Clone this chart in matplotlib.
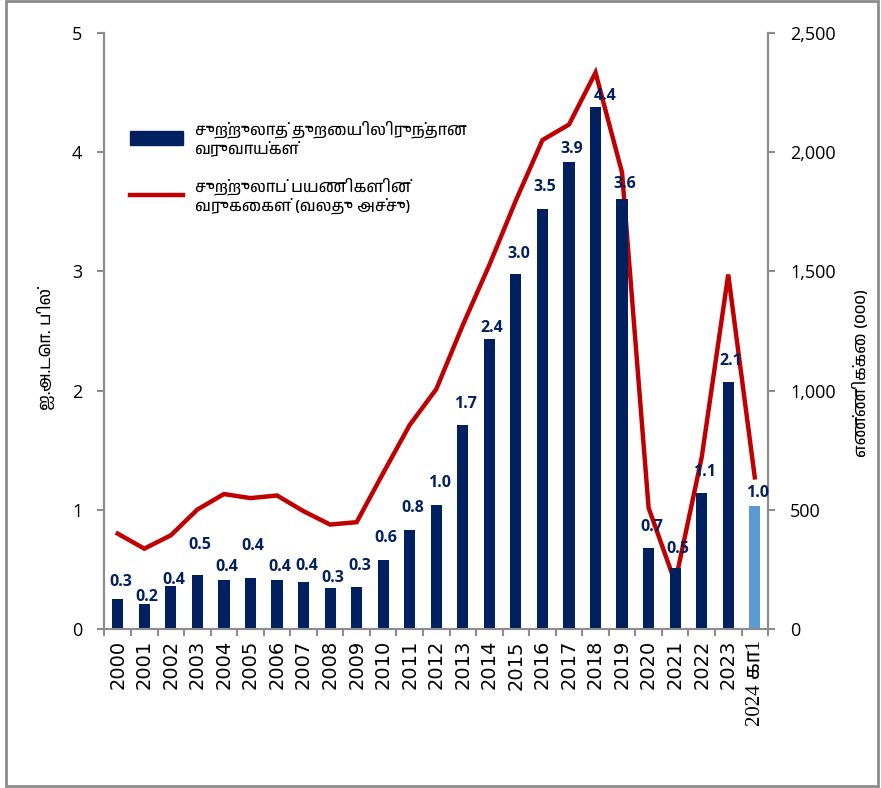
import numpy as np
import matplotlib
matplotlib.use("Agg")
import matplotlib.pyplot as plt
from matplotlib import font_manager
from matplotlib.patches import Rectangle

# ====== Data ======
years = [str(y) for y in range(2000, 2024)] + ["2024 கா1"]
earnings = [0.25, 0.21, 0.36, 0.45, 0.41, 0.43, 0.41, 0.39, 0.34, 0.35,
            0.58, 0.83, 1.04, 1.71, 2.43, 2.98, 3.52, 3.92, 4.38, 3.61,
            0.68, 0.51, 1.14, 2.07, 1.03]
earn_labels = ["0.3", "0.2", "0.4", "0.5", "0.4", "0.4", "0.4", "0.4", "0.3", "0.3",
               "0.6", "0.8", "1.0", "1.7", "2.4", "3.0", "3.5", "3.9", "4.4", "3.6",
               "0.7", "0.5", "1.1", "2.1", "1.0"]
arrivals = [400, 337, 393, 501, 566, 549, 560, 494, 438, 448,
            654, 856, 1006, 1275, 1527, 1798, 2051, 2116, 2334, 1914,
            508, 195, 720, 1487, 636]

left_ticks = [0, 1, 2, 3, 4, 5]
right_ticks = [0, 500, 1000, 1500, 2000, 2500]

legend_bar = "சுற்றுலாத் துறையிலிருந்தான\nவருவாய்கள்"
legend_line = "சுற்றுலாப் பயணிகளின்\nவருகைகள் (வலது அச்சு)"
ylabel_left = "ஐ.அ.டொ. பில்"
ylabel_right = "எண்ணிக்கை (000)"

# label gap above bar top (px), Excel labels were nudged by hand
label_gap = [17, 7, 6, 30, 13, 32, 13, 16, 10, 21,
             22, 22, 22, 21, 11, 20, 22, 13, 11, 15,
             21, 19, 21, 21, 13]

# ====== Fonts ======
tamil = [f.name for f in font_manager.fontManager.ttflist if "tamil" in f.name.lower()]
tamil_family = tamil[0] if tamil else "DejaVu Sans"
family = [tamil_family, "Open Sans", "DejaVu Sans"]
plt.rcParams["font.family"] = family

NAVY = "#002060"
LIGHT = "#5B9BD5"
RED = "#C00000"
GREY = "#8C8C8C"

fig = plt.figure(figsize=(8.81, 7.88), dpi=100)
ax = fig.add_axes([0.1186, 0.2018, 0.7532, 0.7563])
ax2 = ax.twinx()

x = np.arange(len(years))
colors = [NAVY] * (len(years) - 1) + [LIGHT]
ax.bar(x, earnings, width=0.42, color=colors, zorder=2)
ax2.plot(x, arrivals, color=RED, lw=3.2, solid_joinstyle="miter", zorder=3)

ax.set_xlim(-0.5, len(years) - 0.5)
ax.set_ylim(0, 5)
ax2.set_ylim(0, 2500)

for i, v in enumerate(earnings):
    dx = 7 if i == 18 else 2
    ax.annotate(earn_labels[i], (x[i], v), xytext=(dx, label_gap[i] * 0.72),
                textcoords="offset points", ha="center", va="center",
                fontsize=11.5, fontweight="bold", color=NAVY,
                family=["Open Sans", "DejaVu Sans"], zorder=5)

# put line axes under the label text
ax.set_zorder(ax2.get_zorder() + 1)
ax.patch.set_visible(False)

for a in (ax, ax2):
    a.spines["top"].set_visible(False)
    for s in ("left", "right", "bottom"):
        a.spines[s].set_color(GREY)
        a.spines[s].set_linewidth(1.5)

ax.set_yticks(left_ticks)
ax.set_yticklabels([str(t) for t in left_ticks])
ax2.set_yticks(right_ticks)
ax2.set_yticklabels([f"{t:,}" for t in right_ticks])
ax.tick_params(axis="y", length=5, width=1.5, color=GREY, pad=11, labelsize=13)
ax2.tick_params(axis="y", length=5, width=1.5, color=GREY, pad=11, labelsize=13)
for t in ax.get_yticklabels() + ax2.get_yticklabels():
    t.set_family(["Open Sans", "DejaVu Sans"])

ax.set_xticks(x)
ax.set_xticklabels(years, rotation=90, fontsize=14)
ax.set_xticks(np.arange(-0.5, len(years)), minor=True)
ax.tick_params(axis="x", which="major", length=0, pad=8)
ax.tick_params(axis="x", which="minor", length=5, width=1.5, color=GREY)
for t in ax.get_xticklabels():
    t.set_family(["DejaVu Sans", tamil_family])
last = ax.get_xticklabels()[-1]
last.set_family(["Liberation Serif", tamil_family, "DejaVu Sans"])
last.set_fontsize(15)
ax2.tick_params(axis="x", length=0)

ax.set_ylabel(ylabel_left, fontsize=12)
ax.yaxis.set_label_coords(-0.075, 0.47)
ax2.set_ylabel(ylabel_right, fontsize=12)
ax2.yaxis.set_label_coords(1.128, 0.43)

# ====== Legend ======
h_bar = Rectangle((0, 0), 1, 1, color=NAVY)
h_line = plt.Line2D([0], [0], color=RED, lw=3.2)
ax.legend([h_bar, h_line], [legend_bar, legend_line],
          loc="upper left", bbox_to_anchor=(130 / 881, 1 - 120 / 788),
          bbox_transform=fig.transFigure, frameon=False, fontsize=11.5,
          handlelength=3.3, handleheight=1.0, handletextpad=0.75,
          labelspacing=1.3, borderaxespad=0, borderpad=0)

# outer frame
fig.patches.append(Rectangle((6 / 881, 2 / 788), 872 / 881, 785 / 788,
                             transform=fig.transFigure, fill=False,
                             edgecolor=GREY, lw=2))

fig.savefig("out.png", dpi=100)
